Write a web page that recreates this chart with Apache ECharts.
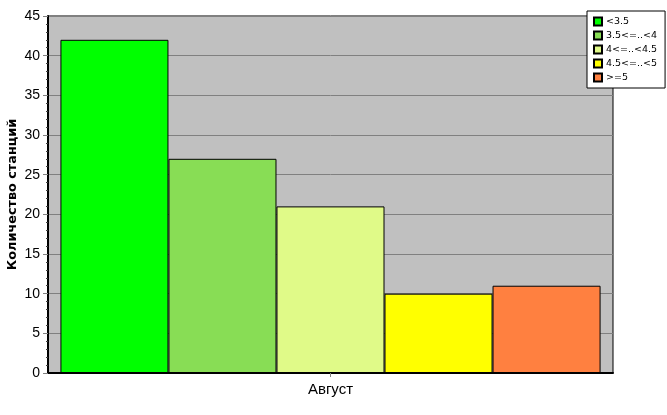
<!DOCTYPE html>
<html><head><meta charset="utf-8">
<script src="https://cdn.jsdelivr.net/npm/echarts@6/dist/echarts.min.js"></script>
<style>html,body{margin:0;padding:0;background:#fff}#c{width:667px;height:415px}</style>
</head><body><div id="c"></div>
<script>
const categories = ['Август'];
const seriesNames = ['<3.5', '3.5<=..<4', '4<=..<4.5', '4.5<=..<5', '>=5'];
const seriesValues = [[42], [27], [21], [10], [11]];
const seriesColors = ['#00FF00', '#88DD55', '#E0FA88', '#FFFF00', '#FF8040'];
const yTicks = { min: 0, max: 45, interval: 5 };

const chart = echarts.init(document.getElementById('c'));
const font = 'Liberation Sans, Arial, sans-serif';
const font2 = 'DejaVu Sans, Verdana, sans-serif';
chart.setOption({
  animation: false,
  grid: { left: 48, top: 16, right: 54, bottom: 42, outerBoundsMode: 'none', containLabel: false, show: true, backgroundColor: '#C0C0C0', borderColor: '#000', borderWidth: 1 },
  legend: {
    orient: 'vertical', left: 587, top: 11,
    backgroundColor: '#fff', borderColor: '#000', borderWidth: 1,
    padding: [5, 8, 5, 6], itemWidth: 8, itemHeight: 8, itemGap: 3,
    icon: 'rect',
    textStyle: { fontSize: 9.5, fontFamily: font2, color: '#000', padding: [0, 0, 0, -1], lineHeight: 11 },
    data: seriesNames
  },
  xAxis: {
    type: 'category', data: categories,
    axisLine: { lineStyle: { color: '#000', width: 2 } },
    axisTick: { show: true, alignWithLabel: true, length: 4, lineStyle: { color: '#808080' } },
    axisLabel: { fontSize: 15, fontFamily: font, color: '#000', margin: 9 }
  },
  yAxis: {
    type: 'value', min: yTicks.min, max: yTicks.max, interval: yTicks.interval,
    name: 'Количество станций', nameLocation: 'middle', nameGap: 29, nameMoveOverlap: false,
    nameTextStyle: { fontSize: 12.8, fontWeight: 'bold', fontFamily: font2, color: '#000' },
    axisLine: { show: true, lineStyle: { color: '#000', width: 2 } },
    axisTick: { show: true, length: 5, lineStyle: { color: '#808080' } },
    minorTick: { show: true, splitNumber: 5, length: 2, lineStyle: { color: '#404040' } },
    splitLine: { show: true, lineStyle: { color: '#808080', width: 1 } },
    axisLabel: { fontSize: 14, fontFamily: font, color: '#000', margin: 8 }
  },
  series: seriesNames.map((n, i) => ({
    name: n, type: 'bar', data: seriesValues[i],
    barGap: '0%', barCategoryGap: '4.4%',
    itemStyle: { color: seriesColors[i], borderColor: '#000', borderWidth: 1 }
  }))
});
</script></body></html>
